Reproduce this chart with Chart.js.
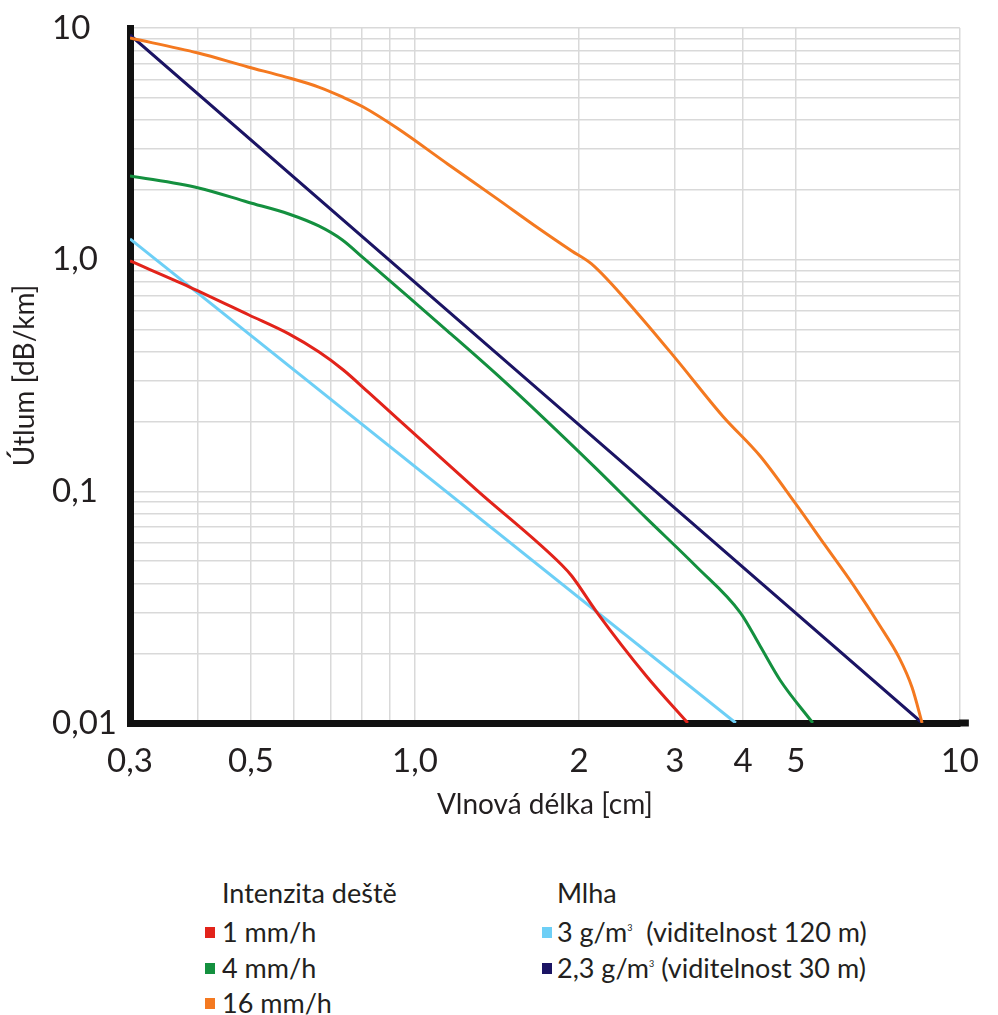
<!DOCTYPE html>
<html lang="cs">
<head>
<meta charset="utf-8">
<title>Útlum v závislosti na vlnové délce</title>
<script src="https://cdn.jsdelivr.net/npm/chart.js@4.4.1/dist/chart.umd.min.js"></script>
<style>
  html, body { margin: 0; padding: 0; background: #fff; overflow: hidden; }
  #wrap { position: relative; width: 998px; height: 850px; }
  #legend { position: absolute; left: 0; top: 850px; width: 998px; height: 165px;
            font-family: Lato, sans-serif; font-size: 27px; color: #231f20; }
  #legend .txt { position: absolute; white-space: pre; line-height: 28px; }
  #legend .sw { position: absolute; width: 10px; height: 11px; }
  #legend sup { font-size: 9px; position: relative; top: -4px; vertical-align: top; }
</style>
</head>
<body>
<div id="wrap"><canvas id="chart"></canvas></div>
<div id="legend"></div>
<script>
// Axis ranges (logarithmic on both axes)
const xMin = 0.3, xMax = 10;
const yMin = 0.01, yMax = 10;

// Grid lines and labelled ticks
const xGridValues = [0.3, 0.4, 0.5, 0.6, 0.7, 0.8, 0.9, 1, 2, 3, 4, 5, 10];
const xLabelValues = [0.3, 0.5, 1, 2, 3, 4, 5, 10];
const xLabelTexts = ['0,3', '0,5', '1,0', '2', '3', '4', '5', '10'];
const yGridValues = [0.01, 0.02, 0.03, 0.04, 0.05, 0.06, 0.07, 0.08, 0.09,
                     0.1, 0.2, 0.3, 0.4, 0.5, 0.6, 0.7, 0.8, 0.9,
                     1, 2, 3, 4, 5, 6, 7, 8, 9, 10];
const yLabelValues = [0.01, 0.1, 1, 10];
const yLabelTexts = ['0,01', '0,1', '1,0', '10'];

// Rain intensity 1 mm/h  (wavelength cm, attenuation dB/km)
const rain1X = [0.30, 0.386, 0.496, 0.587, 0.666, 0.739, 0.821, 0.931, 1.30,
                1.86, 1.94, 2.154, 2.656, 3.168];
const rain1Y = [0.987, 0.762, 0.577, 0.478, 0.400, 0.334, 0.268, 0.205, 0.101,
                0.0481, 0.0431, 0.0302, 0.0160, 0.010];

// Rain intensity 4 mm/h
const rain4X = [0.30, 0.401, 0.494, 0.587, 0.666, 0.736, 0.804, 0.931, 1.148, 1.416,
                1.746, 2.154, 2.656, 3.276, 3.957, 4.30, 4.68, 5.373];
const rain4Y = [2.30, 2.04, 1.77, 1.575, 1.398, 1.216, 1.017, 0.755, 0.492, 0.318,
                0.201, 0.125, 0.0768, 0.0476, 0.0299, 0.0215, 0.0153, 0.010];

// Rain intensity 16 mm/h
const rain16X = [0.30, 0.40, 0.494, 0.58, 0.666, 0.736, 0.804, 0.927, 1.148, 1.416,
                 1.675, 1.94, 2.109, 2.548, 3.013, 3.669, 4.30, 4.984, 5.652, 6.409,
                 7.118, 7.741, 8.175, 8.526];
const rain16Y = [9.05, 7.80, 6.79, 6.14, 5.56, 5.04, 4.56, 3.70, 2.59, 1.83,
                 1.38, 1.09, 0.958, 0.595, 0.373, 0.2115, 0.142, 0.0891, 0.0587, 0.0387,
                 0.0265, 0.0191, 0.0142, 0.010];

// Fog 3 g/m3 (visibility 120 m)
const fog3X = [0.30, 3.88];
const fog3Y = [1.23, 0.010];

// Fog 2.3 g/m3 (visibility 30 m)
const fog23X = [0.30, 8.53];
const fog23Y = [9.33, 0.010];

const series = [
  { group: 0, label: '1 mm/h', color: '#e2231a', xs: rain1X, ys: rain1Y },
  { group: 0, label: '4 mm/h', color: '#14903f', xs: rain4X, ys: rain4Y },
  { group: 0, label: '16 mm/h', color: '#f47920', xs: rain16X, ys: rain16Y },
  { group: 1, label: '3 g/m<sup>3</sup>  (viditelnost 120 m)', color: '#6dcff6', xs: fog3X, ys: fog3Y },
  { group: 1, label: '2,3 g/m<sup>3</sup> (viditelnost 30 m)', color: '#1b1464', xs: fog23X, ys: fog23Y }
];
const groupTitles = ['Intenzita deště', 'Mlha'];

const pts = (xs, ys) => xs.map((x, i) => ({ x: x, y: ys[i] }));
const labelFor = (vals, texts) => (value) => {
  const i = vals.findIndex(v => Math.abs(v - value) < v * 1e-6);
  return i >= 0 ? texts[i] : '';
};

Chart.defaults.font.family = 'Lato, sans-serif';
Chart.defaults.color = '#231f20';

const gridStyle = { color: '#d9d9d9', lineWidth: 1.5, drawTicks: false };
const axisBorder = { display: true, color: '#111111', width: 7 };

// The horizontal axis bar runs a little past the last grid line
const axisOverhang = {
  id: 'axisOverhang',
  afterDraw(chart) {
    const { ctx, chartArea } = chart;
    ctx.save();
    ctx.strokeStyle = '#111111';
    ctx.lineWidth = 7;
    ctx.beginPath();
    ctx.moveTo(chartArea.right - 1, chartArea.bottom);
    ctx.lineTo(chartArea.right + 9, chartArea.bottom);
    ctx.stroke();
    ctx.restore();
  }
};

new Chart(document.getElementById('chart'), {
  type: 'line',
  data: {
    datasets: series.map(s => ({
      label: s.label,
      data: pts(s.xs, s.ys),
      borderColor: s.color,
      backgroundColor: s.color,
      borderWidth: 3,
      pointRadius: 0,
      fill: false,
      cubicInterpolationMode: 'monotone'
    }))
  },
  plugins: [axisOverhang],
  options: {
    responsive: true,
    maintainAspectRatio: false,
    animation: false,
    layout: { padding: { left: 52, top: 28, right: 32, bottom: 0 } },
    plugins: { legend: { display: false }, tooltip: { enabled: false } },
    scales: {
      x: {
        type: 'logarithmic',
        min: xMin, max: xMax,
        grid: gridStyle,
        border: axisBorder,
        afterBuildTicks: (axis) => { axis.ticks = xGridValues.map(v => ({ value: v })); },
        afterFit: (axis) => { axis.height = 127; },
        ticks: {
          autoSkip: false, maxRotation: 0, padding: 19,
          font: { size: 33 },
          callback: labelFor(xLabelValues, xLabelTexts)
        },
        title: {
          display: true, text: 'Vlnová délka [cm]',
          font: { size: 28 }, padding: { top: 0, bottom: 28 }
        }
      },
      y: {
        type: 'logarithmic',
        min: yMin, max: yMax,
        grid: gridStyle,
        border: axisBorder,
        afterBuildTicks: (axis) => { axis.ticks = yGridValues.map(v => ({ value: v })); },
        afterFit: (axis) => { axis.width = 78; },
        ticks: {
          autoSkip: false, crossAlign: 'far', padding: 0, labelOffset: 0,
          font: { size: 33 },
          callback: labelFor(yLabelValues, yLabelTexts)
        },
        title: {
          display: true, text: 'Útlum [dB/km]',
          font: { size: 28 }, padding: { top: -44, bottom: 0 }
        }
      }
    }
  }
});

// Grouped legend below the plot
const legend = document.getElementById('legend');
const colX = [{ sw: 205, txt: 222 }, { sw: 542, txt: 557 }];
const headTop = 29, rowTops = [68, 104, 139];
groupTitles.forEach((t, g) => {
  const h = document.createElement('div');
  h.className = 'txt';
  h.style.left = colX[g].txt + 'px';
  h.style.top = headTop + 'px';
  h.textContent = t;
  legend.appendChild(h);
  series.filter(s => s.group === g).forEach((s, r) => {
    const sw = document.createElement('div');
    sw.className = 'sw';
    sw.style.left = colX[g].sw + 'px';
    sw.style.top = (rowTops[r] + 9) + 'px';
    sw.style.background = s.color;
    legend.appendChild(sw);
    const d = document.createElement('div');
    d.className = 'txt';
    d.style.left = colX[g].txt + 'px';
    d.style.top = rowTops[r] + 'px';
    d.innerHTML = s.label;
    legend.appendChild(d);
  });
});
</script>
</body>
</html>
